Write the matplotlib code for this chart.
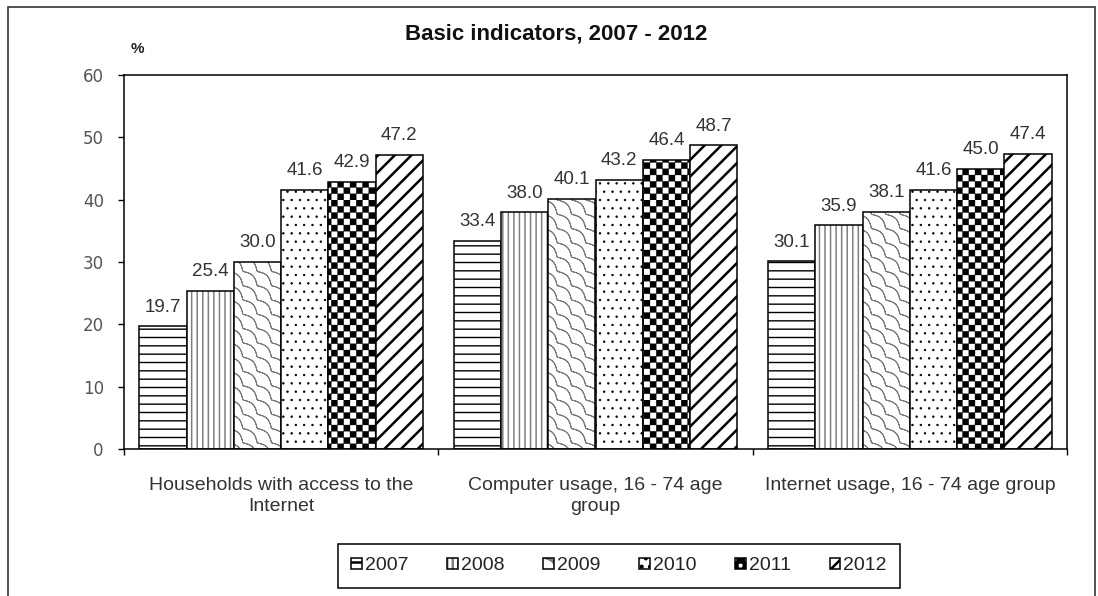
import warnings
import numpy as np
import matplotlib
matplotlib.use("Agg")
import matplotlib.pyplot as plt
import matplotlib.hatch as mhatch
from matplotlib.path import Path
from matplotlib.patches import Rectangle
from matplotlib.colors import to_rgba

warnings.filterwarnings("ignore")

# ---------------- data ----------------
categories = ["Households with access to the\nInternet",
              "Computer usage, 16 - 74 age\ngroup",
              "Internet usage, 16 - 74 age group"]
years = ["2007", "2008", "2009", "2010", "2011", "2012"]
v2007 = [19.7, 33.4, 30.1]
v2008 = [25.4, 38.0, 35.9]
v2009 = [30.0, 40.1, 38.1]
v2010 = [41.6, 43.2, 41.6]
v2011 = [42.9, 46.4, 45.0]
v2012 = [47.2, 48.7, 47.4]
series = [v2007, v2008, v2009, v2010, v2011, v2012]
yticks = [0, 10, 20, 30, 40, 50, 60]


# ---------------- custom hatch patterns ----------------
class _CheckerHatch(mhatch.HatchPatternBase):
    def __init__(self, hatch, density):
        self.n = 16 if "c" in hatch else 0
        self.num_vertices = (self.n * self.n // 2) * 5

    def set_vertices_and_codes(self, vertices, codes):
        s = 1.0 / self.n
        k = 0
        for i in range(self.n):
            for j in range(self.n):
                if (i + j) % 2 == 0:
                    x0, y0 = i * s, j * s
                    vertices[k:k + 5] = [(x0, y0), (x0 + s, y0), (x0 + s, y0 + s),
                                         (x0, y0 + s), (x0, y0)]
                    codes[k] = Path.MOVETO
                    codes[k + 1:k + 4] = Path.LINETO
                    codes[k + 4] = Path.CLOSEPOLY
                    k += 5


class _WaveHatch(mhatch.HatchPatternBase):
    def __init__(self, hatch, density):
        self.on = "w" in hatch
        self.nlines = 7
        self.npts = 161
        self.ks = list(range(-2, 2 * self.nlines + 3))
        self.num_vertices = len(self.ks) * self.npts * 2 if self.on else 0

    def set_vertices_and_codes(self, vertices, codes):
        t = np.linspace(-0.1, 1.1, self.npts)
        amp, m = 0.04, 7
        off = amp * np.abs(np.sin(np.pi * m * t)) / np.sqrt(2)
        k = 0
        for c in self.ks:
            cc = c / self.nlines
            x = t + off
            y = cc - t + off
            pts = np.column_stack([x, y])
            seg = np.vstack([pts, pts[::-1]])
            n = len(seg)
            vertices[k:k + n] = seg
            codes[k] = Path.MOVETO
            codes[k + 1:k + n] = Path.LINETO
            k += n


mhatch._hatch_types.extend([_CheckerHatch, _WaveHatch])
mhatch._validate_hatch_pattern = lambda h: None

hatches = ["--", "|||", "w", "..", "c", "//"]
hatch_colors = ["black", "#808080", "#7a7a7a", "black", "black", "black"]
hatch_lws = [1.0, 1.1, 0.7, 0.5, 0.2, 1.8]

# ---------------- figure ----------------
fig = plt.figure(figsize=(10.98, 5.96), dpi=100)
fig.patch.set_facecolor("white")
ax = fig.add_axes([124 / 1098, 1 - 449 / 596, (1067 - 124) / 1098, (449 - 75) / 596])

x = np.arange(len(categories))
w = 0.1505
txt_color = "#333333"

for i, (vals, yr) in enumerate(zip(series, years)):
    plt.rcParams["hatch.linewidth"] = hatch_lws[i]
    bars = ax.bar(x + (i - 2.5) * w, vals, w, color="white", edgecolor="black",
                  linewidth=1.1, hatch=hatches[i], label=yr, zorder=2)
    for p in bars:
        p._hatch_color = to_rgba(hatch_colors[i])
        if hasattr(p, "set_hatch_linewidth"):
            p.set_hatch_linewidth(hatch_lws[i])
    for xi, v in zip(x + (i - 2.5) * w, vals):
        ax.annotate(f"{v:.1f}", (xi, v), xytext=(0, 10.5), textcoords="offset points",
                    ha="center", va="baseline", fontsize=13.5, color=txt_color,
                    family="Liberation Sans")

ax.set_xlim(-0.5, 2.5)
ax.set_ylim(0, 60)
ax.set_yticks(yticks)
ax.set_yticklabels([str(t) for t in yticks])
ax.tick_params(axis="y", direction="out", length=4.5, width=1.0, pad=10,
               labelsize=12, labelcolor="#555555")
ax.set_xticks([-0.5, 0.5, 1.5, 2.5])
ax.set_xticklabels([])
ax.set_xticks(x, minor=True)
ax.set_xticklabels(categories, minor=True, fontsize=14, color=txt_color,
                   family="Liberation Sans", linespacing=1.3)
ax.tick_params(axis="x", which="major", direction="out", length=4, width=1.0)
ax.tick_params(axis="x", which="minor", length=0, pad=20)
for lab in ax.get_yticklabels():
    lab.set_family("DejaVu Sans")
for s in ax.spines.values():
    s.set_linewidth(1.1)
    s.set_color("black")

# title and unit label
fig.text(556 / 1098, 1 - 34 / 596, "Basic indicators, 2007 - 2012", ha="center",
         va="center", fontsize=16, fontweight="bold", color="#111111",
         family="Liberation Sans")
fig.text(137 / 1098, 1 - 49 / 596, "%", ha="center", va="center", fontsize=11,
         fontweight="bold", color="#222222", family="Liberation Sans")

# legend
leg = ax.legend(loc="center", bbox_to_anchor=(619 / 1098, 1 - 566 / 596),
                bbox_transform=fig.transFigure, ncol=6, frameon=True,
                fancybox=False, framealpha=1, edgecolor="black",
                prop={"family": "Liberation Sans", "size": 14},
                handlelength=0.55, handleheight=0.55, handletextpad=0.15,
                columnspacing=2.0, borderpad=0.7, borderaxespad=0)
leg.get_frame().set_linewidth(1.1)
for t in leg.get_texts():
    t.set_color("#222222")

# outer border
fig.patches.append(Rectangle((8 / 1098, -0.02), (1095 - 8) / 1098, 1.02 - 7 / 596,
                             transform=fig.transFigure, fill=False,
                             edgecolor="#333333", linewidth=1.2))

fig.savefig("out.png", dpi=100)
